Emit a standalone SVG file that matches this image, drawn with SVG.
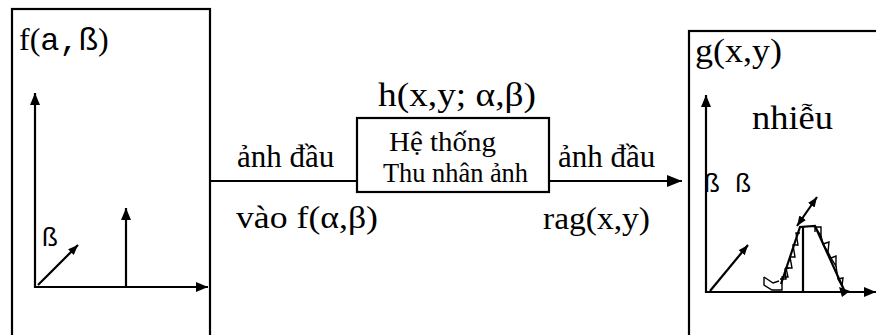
<svg xmlns="http://www.w3.org/2000/svg" width="876" height="335" viewBox="0 0 876 335">
<style>
text{font-family:"Liberation Serif","Times New Roman",serif;fill:#000}
.m{font-family:"Liberation Mono","Courier New",monospace}
.ln{stroke:#000;stroke-width:2.2;fill:none}
.th{stroke:#000;stroke-width:1.4;fill:none}
</style>
<defs>
<marker id="ah" viewBox="0 0 12 10" refX="12" refY="5" markerWidth="12" markerHeight="10" markerUnits="userSpaceOnUse" orient="auto-start-reverse">
<path d="M0,0 L12,5 L0,10 Z" fill="#000"/>
</marker>
<marker id="ahb" viewBox="0 0 15 12" refX="15" refY="6" markerWidth="15" markerHeight="12" markerUnits="userSpaceOnUse" orient="auto">
<path d="M0,0 L15,6 L0,12 Z" fill="#000"/>
</marker>
<marker id="ahs" viewBox="0 0 10 8" refX="10" refY="4" markerWidth="10" markerHeight="8" markerUnits="userSpaceOnUse" orient="auto-start-reverse">
<path d="M0,0 L10,4 L0,8 Z" fill="#000"/>
</marker>
</defs>
<rect width="876" height="335" fill="#fff"/>

<g id="input">
<rect x="12" y="9" width="198" height="340" class="ln"/>
<text x="19" y="50" font-size="32">f(<tspan class="m">a,ß</tspan>)</text>
<line x1="35" y1="288" x2="35" y2="93" class="ln" marker-end="url(#ah)"/>
<line x1="34" y1="287" x2="208" y2="287" class="ln" marker-end="url(#ah)"/>
<line x1="126" y1="287" x2="126" y2="208" class="ln" marker-end="url(#ah)"/>
<line x1="38" y1="285" x2="78" y2="245" class="ln" marker-end="url(#ahs)"/>
<text class="m" x="42" y="246" font-size="26">ß</text>
</g>

<g id="system">
<rect x="357" y="118" width="192" height="74" class="ln"/>
<text x="378" y="106" font-size="33" textLength="158" lengthAdjust="spacingAndGlyphs">h(x,y; α,β)</text>
<text x="389" y="151" font-size="28" textLength="107" lengthAdjust="spacingAndGlyphs">Hệ thống</text>
<text x="383" y="182" font-size="27" textLength="145" lengthAdjust="spacingAndGlyphs">Thu nhân ảnh</text>
</g>

<g id="output">
<rect x="689" y="31" width="200" height="320" class="ln"/>
<text x="695" y="62" font-size="34" textLength="87" lengthAdjust="spacingAndGlyphs">g(x,y)</text>
<text x="752" y="129" font-size="34" textLength="81" lengthAdjust="spacingAndGlyphs">nhiễu</text>
<text class="m" x="704" y="192" font-size="26">ß ß</text>
<line x1="706" y1="293" x2="706" y2="95" class="ln" marker-end="url(#ah)"/>
<line x1="705" y1="292" x2="876" y2="292" class="ln" marker-end="url(#ah)"/>
<line x1="710" y1="291" x2="748" y2="245" class="ln" marker-end="url(#ahs)"/>
<line x1="803" y1="292" x2="803" y2="226" class="ln"/>
<line x1="797" y1="226" x2="817" y2="197" class="ln" marker-start="url(#ahs)" marker-end="url(#ahs)"/>
<path class="ln" d="M781,284 L800,227 L815,226 L845,292"/>
<path class="th" d="M764,277 L764,285 L772,290 L782,290 L782,277 L788,277 L786,268 L792,268 L790,257 L795,257 L793,245 L798,245 L796,233 L800,233"/>
<path class="th" d="M764,277 L773,283 L779,281"/>
<path class="th" d="M780,279 L786,279 L785,269 L789,268"/>
<path class="th" d="M815,227 L821,227 L821,236 Z M823,244 L829,242 L828,252 Z M831,258 L836,256 L836,266 Z M838,279 L843,278 L842,286 Z"/>
<path class="th" d="M815,226 L815,232 M821,236 L823,244 M828,252 L831,258 M836,266 L838,279"/>
<path d="M839,287 L850,291 L842,297 Z" fill="#000"/>
</g>

<g id="connectors">
<line x1="210" y1="181" x2="357" y2="181" class="ln"/>
<line x1="549" y1="181" x2="682" y2="181" class="ln" marker-end="url(#ahb)"/>
<text x="237" y="167" font-size="31">ảnh đầu</text>
<text x="236" y="228" font-size="31" textLength="142" lengthAdjust="spacingAndGlyphs">vào f(α,β)</text>
<text x="558" y="167" font-size="31">ảnh đầu</text>
<text x="543" y="229" font-size="31" textLength="107" lengthAdjust="spacingAndGlyphs">rag(x,y)</text>
</g>
</svg>
